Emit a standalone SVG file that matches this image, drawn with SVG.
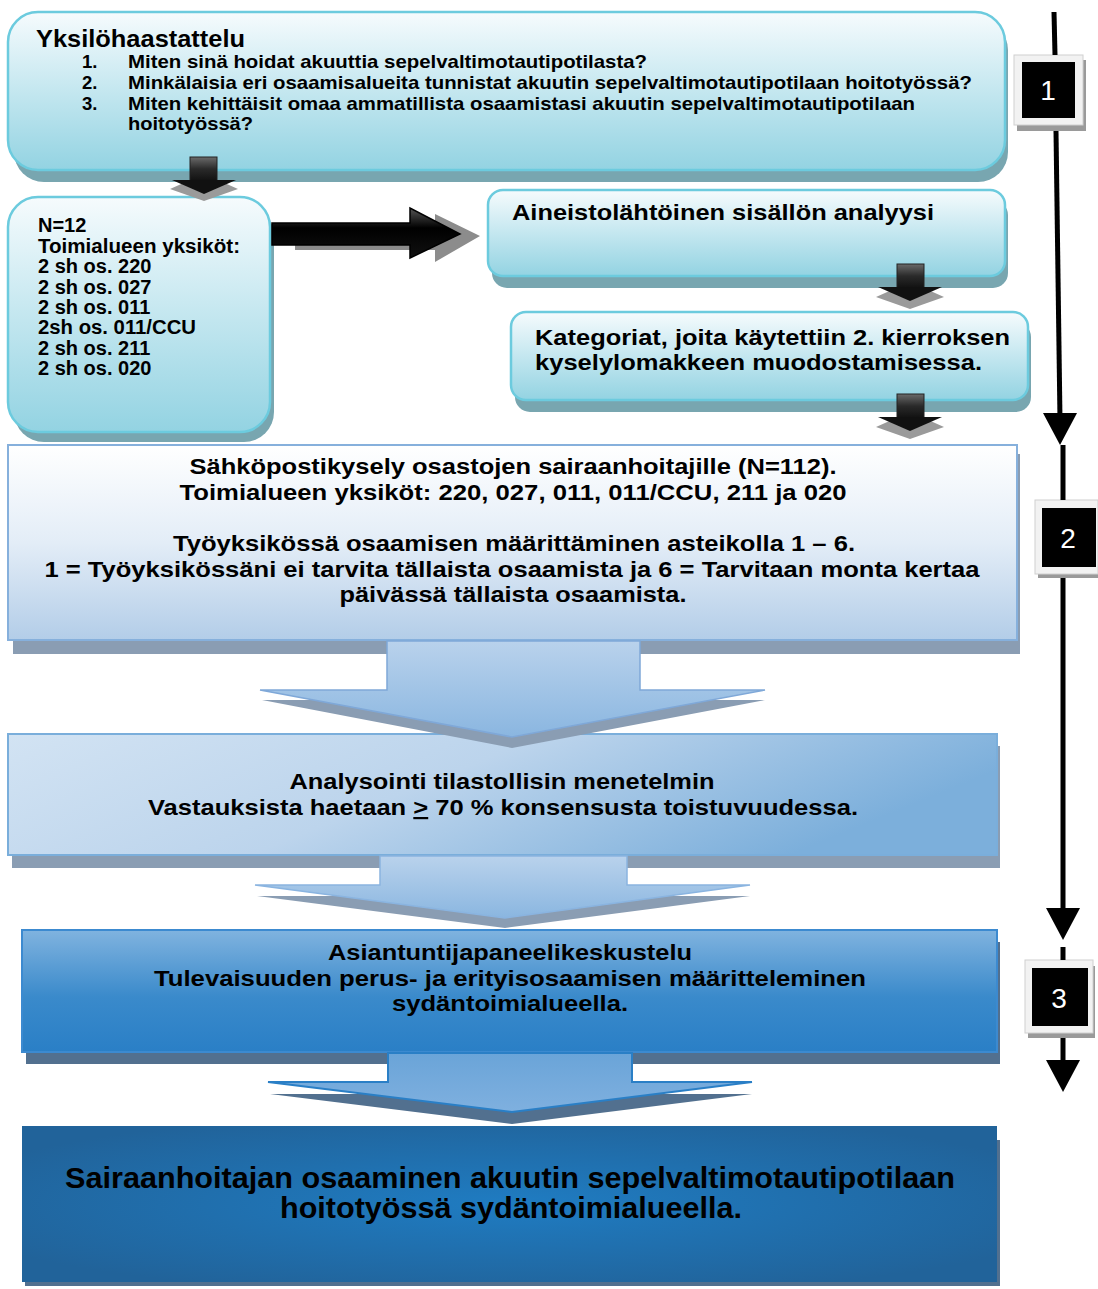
<svg xmlns="http://www.w3.org/2000/svg" width="1098" height="1289" viewBox="0 0 1098 1289">
<defs>
<linearGradient id="gCyan" x1="0" y1="0" x2="0" y2="1">
<stop offset="0" stop-color="#f6fbfd"/><stop offset="0.45" stop-color="#c9e9f1"/><stop offset="1" stop-color="#93d3e2"/>
</linearGradient>
<linearGradient id="gB5" x1="0" y1="0" x2="0" y2="1">
<stop offset="0" stop-color="#ffffff"/><stop offset="0.5" stop-color="#e3edf7"/><stop offset="1" stop-color="#b3cde8"/>
</linearGradient>
<linearGradient id="gB6" x1="0" y1="0" x2="1" y2="0.3">
<stop offset="0" stop-color="#d2e3f3"/><stop offset="0.5" stop-color="#bcd4ec"/><stop offset="1" stop-color="#7cafdb"/>
</linearGradient>
<linearGradient id="gB7" x1="0" y1="0" x2="0" y2="1">
<stop offset="0" stop-color="#80b3df"/><stop offset="0.55" stop-color="#3a8acb"/><stop offset="1" stop-color="#2a7fc6"/>
</linearGradient>
<radialGradient id="gB8" cx="0.5" cy="0.5" r="0.6">
<stop offset="0" stop-color="#1f7cc2"/><stop offset="1" stop-color="#21639a"/>
</radialGradient>
<linearGradient id="gArr" x1="0" y1="0" x2="0" y2="1">
<stop offset="0" stop-color="#b9d2ec"/><stop offset="1" stop-color="#8ab6e0"/>
</linearGradient>
<linearGradient id="gArr3" x1="0" y1="0" x2="0" y2="1">
<stop offset="0" stop-color="#6aa4d8"/><stop offset="1" stop-color="#7fb0df"/>
</linearGradient>
<linearGradient id="gDark" x1="0" y1="0" x2="0" y2="1">
<stop offset="0" stop-color="#6a6a6a"/><stop offset="0.5" stop-color="#2a2a2a"/><stop offset="1" stop-color="#111"/>
</linearGradient>
<linearGradient id="gBlack" x1="0" y1="0" x2="0" y2="1">
<stop offset="0" stop-color="#555"/><stop offset="0.4" stop-color="#000"/><stop offset="1" stop-color="#111"/>
</linearGradient>
</defs>
<style>
text{font-family:"Liberation Sans",Arial,sans-serif;font-weight:bold;fill:#000}
.cy{fill:url(#gCyan);stroke:#6ccbde;stroke-width:2.5}
.sh{fill:#78a6b0}
.bsh{fill:#8a9db3}
.t17{font-size:18.5px}
.t18{font-size:20px}
.t22{font-size:22px}
.c{text-anchor:middle}
.badge{fill:#f2f2f2;stroke:#d0d0d0;stroke-width:1}
.bshadow{fill:#9a9a9a}
.num{fill:#fff;font-weight:normal;font-size:28px;text-anchor:middle}
.tl{stroke:#000;stroke-width:5;fill:none}
</style>

<g id="node-yksilo">
<rect class="sh" x="14" y="20" width="994" height="162" rx="30"/>
<rect class="cy" x="8" y="12" width="997" height="158" rx="30"/>
<text x="36" y="47" style="font-size:24px" textLength="209" lengthAdjust="spacingAndGlyphs">Yksilöhaastattelu</text>
<text class="t17" x="82" y="68">1.</text>
<text class="t17" x="128" y="68" textLength="519" lengthAdjust="spacingAndGlyphs">Miten sinä hoidat akuuttia sepelvaltimotautipotilasta?</text>
<text class="t17" x="82" y="89">2.</text>
<text class="t17" x="128" y="89" textLength="844" lengthAdjust="spacingAndGlyphs">Minkälaisia eri osaamisalueita tunnistat akuutin sepelvaltimotautipotilaan hoitotyössä?</text>
<text class="t17" x="82" y="110">3.</text>
<text class="t17" x="128" y="110" textLength="787" lengthAdjust="spacingAndGlyphs">Miten kehittäisit omaa ammatillista osaamistasi akuutin sepelvaltimotautipotilaan</text>
<text class="t17" x="128" y="130" textLength="125" lengthAdjust="spacingAndGlyphs">hoitotyössä?</text>
</g>

<g id="node-n12">
<rect class="sh" x="14" y="206" width="260" height="236" rx="30"/>
<rect class="cy" x="8" y="197" width="262" height="235" rx="30"/>
<text class="t18" x="38" y="232">N=12</text>
<text class="t18" x="38" y="253" textLength="202" lengthAdjust="spacingAndGlyphs">Toimialueen yksiköt:</text>
<text class="t18" x="38" y="273">2 sh os. 220</text>
<text class="t18" x="38" y="294">2 sh os. 027</text>
<text class="t18" x="38" y="314">2 sh os. 011</text>
<text class="t18" x="38" y="334" textLength="158" lengthAdjust="spacingAndGlyphs">2sh os. 011/CCU</text>
<text class="t18" x="38" y="355">2 sh os. 211</text>
<text class="t18" x="38" y="375">2 sh os. 020</text>
</g>

<g id="node-aineisto">
<rect class="sh" x="492" y="200" width="516" height="88" rx="15"/>
<rect class="cy" x="488" y="190" width="517" height="86" rx="15"/>
<text class="t22" x="512" y="220" textLength="422" lengthAdjust="spacingAndGlyphs">Aineistolähtöinen sisällön analyysi</text>
</g>

<g id="node-kategoriat">
<rect class="sh" x="515" y="322" width="516" height="90" rx="15"/>
<rect class="cy" x="511" y="312" width="517" height="88" rx="15"/>
<text class="t22" x="535" y="345" textLength="475" lengthAdjust="spacingAndGlyphs">Kategoriat, joita käytettiin 2. kierroksen</text>
<text class="t22" x="535" y="370" textLength="447" lengthAdjust="spacingAndGlyphs">kyselylomakkeen muodostamisessa.</text>
</g>

<g id="node-sahkoposti">
<rect class="bsh" x="13" y="454" width="1007" height="200"/>
<rect x="8" y="445" width="1009" height="195" fill="url(#gB5)" stroke="#86b0dc" stroke-width="2"/>
<text class="t22 c" x="513" y="474" textLength="647" lengthAdjust="spacingAndGlyphs">Sähköpostikysely osastojen sairaanhoitajille (N=112).</text>
<text class="t22 c" x="513" y="500" textLength="667" lengthAdjust="spacingAndGlyphs">Toimialueen yksiköt: 220, 027, 011, 011/CCU, 211 ja 020</text>
<text class="t22 c" x="514" y="551" textLength="682" lengthAdjust="spacingAndGlyphs">Työyksikössä osaamisen määrittäminen asteikolla 1 – 6.</text>
<text class="t22 c" x="512" y="577" textLength="935" lengthAdjust="spacingAndGlyphs">1 = Työyksikössäni ei tarvita tällaista osaamista ja 6 = Tarvitaan monta kertaa</text>
<text class="t22 c" x="513" y="602" textLength="347" lengthAdjust="spacingAndGlyphs">päivässä tällaista osaamista.</text>
</g>

<g id="node-analysointi">
<rect class="bsh" x="12" y="746" width="988" height="122"/>
<rect x="8" y="734" width="989" height="121" fill="url(#gB6)" stroke="#7aaedb" stroke-width="2"/>
<text class="t22 c" x="502" y="789" textLength="425" lengthAdjust="spacingAndGlyphs">Analysointi tilastollisin menetelmin</text>
<text class="t22 c" x="503" y="815" textLength="710" lengthAdjust="spacingAndGlyphs">Vastauksista haetaan <tspan text-decoration="underline">&gt;</tspan> 70 % konsensusta toistuvuudessa.</text>
</g>

<g id="node-asiantuntija">
<rect x="26" y="942" width="974" height="122" fill="#52708f"/>
<rect x="22" y="930" width="975" height="122" fill="url(#gB7)" stroke="#3c8ad0" stroke-width="2"/>
<text class="t22 c" x="510" y="960" textLength="364" lengthAdjust="spacingAndGlyphs">Asiantuntijapaneelikeskustelu</text>
<text class="t22 c" x="510" y="986" textLength="712" lengthAdjust="spacingAndGlyphs">Tulevaisuuden perus- ja erityisosaamisen määritteleminen</text>
<text class="t22 c" x="510" y="1011" textLength="236" lengthAdjust="spacingAndGlyphs">sydäntoimialueella.</text>
</g>

<g id="node-tulos">
<rect x="25" y="1140" width="975" height="146" fill="#52708f"/>
<rect x="22" y="1126" width="975" height="156" fill="url(#gB8)"/>
<text class="c" x="510" y="1188" style="font-size:30px" textLength="890" lengthAdjust="spacingAndGlyphs">Sairaanhoitajan osaaminen akuutin sepelvaltimotautipotilaan</text>
<text class="c" x="511" y="1218" style="font-size:30px" textLength="462" lengthAdjust="spacingAndGlyphs">hoitotyössä sydäntoimialueella.</text>
</g>

<g id="badge-1">
<rect class="bshadow" x="1017" y="60" width="69" height="71"/>
<rect class="badge" x="1014" y="55" width="69" height="70"/>
<rect x="1022" y="62" width="53" height="56" fill="#000"/>
<text class="num" x="1048" y="100">1</text>
</g>
<g id="badge-2">
<rect class="bshadow" x="1038" y="506" width="62" height="72"/>
<rect class="badge" x="1035" y="500" width="63" height="74"/>
<rect x="1042" y="508" width="54" height="59" fill="#000"/>
<text class="num" x="1068" y="548">2</text>
</g>
<g id="badge-3">
<rect class="bshadow" x="1028" y="966" width="67" height="72"/>
<rect class="badge" x="1025" y="960" width="68" height="73"/>
<rect x="1032" y="968" width="56" height="58" fill="#000"/>
<text class="num" x="1059" y="1008">3</text>
</g>

<g id="connectors">
<g id="arr-small-1">
<polygon points="188,181 220,181 238,189 204,201 170,189" fill="#9a9a9a"/>
<rect x="190" y="157" width="27" height="24" fill="url(#gDark)" stroke="#222" stroke-width="1"/>
<polygon points="172,180 236,180 204,194" fill="#111"/>
</g>
<g id="arr-small-2">
<polygon points="894,289 926,289 944,297 910,309 876,297" fill="#9a9a9a"/>
<rect x="897" y="264" width="27" height="24" fill="url(#gDark)" stroke="#222" stroke-width="1"/>
<polygon points="878,287 942,287 910,301" fill="#111"/>
</g>
<g id="arr-small-3">
<polygon points="894,419 926,419 944,427 910,439 876,427" fill="#9a9a9a"/>
<rect x="897" y="394" width="27" height="24" fill="url(#gDark)" stroke="#222" stroke-width="1"/>
<polygon points="878,417 942,417 910,431" fill="#111"/>
</g>
<g id="arr-right">
<polygon points="295,228 435,228 435,214 480,236 435,262 435,250 295,250" fill="#8c8c8c"/>
<polygon points="272,223 410,223 410,208 460,234 410,258 410,245 272,245" fill="url(#gBlack)" stroke="#000" stroke-width="1.5"/>
</g>
<g id="arr-blue-1">
<polygon points="262,700 387,700 387,654 640,654 640,700 765,700 512,748" fill="#8a9db3"/>
<polygon points="260,690 387,690 387,641 640,641 640,690 765,690 512,737" fill="url(#gArr)" stroke="#7fa8d8" stroke-width="1.5"/>
</g>
<g id="arr-blue-2">
<polygon points="257,896 380,896 380,868 627,868 627,896 750,896 505,928" fill="#8a9db3"/>
<polygon points="255,885 380,885 380,856 627,856 627,885 750,885 505,918" fill="url(#gArr)" stroke="#8ab4e0" stroke-width="1.5"/>
</g>
<g id="arr-blue-3">
<polygon points="270,1094 388,1094 388,1064 632,1064 632,1094 752,1094 512,1124" fill="#52708f"/>
<polygon points="268,1082 388,1082 388,1053 632,1053 632,1082 752,1082 512,1112" fill="url(#gArr3)" stroke="#2a7fc6" stroke-width="2"/>
</g>
<g id="timeline">
<line class="tl" x1="1054" y1="12" x2="1055" y2="55"/>
<line class="tl" x1="1056" y1="131" x2="1060" y2="420"/>
<polygon points="1043,413 1077,413 1060,445"/>
<line class="tl" x1="1063" y1="445" x2="1063" y2="500"/>
<line class="tl" x1="1063" y1="578" x2="1063" y2="915"/>
<polygon points="1046,908 1080,908 1063,940"/>
<line class="tl" x1="1063" y1="947" x2="1063" y2="960"/>
<line class="tl" x1="1063" y1="1038" x2="1063" y2="1065"/>
<polygon points="1046,1060 1080,1060 1063,1092"/>
</g>
</g>
</svg>
